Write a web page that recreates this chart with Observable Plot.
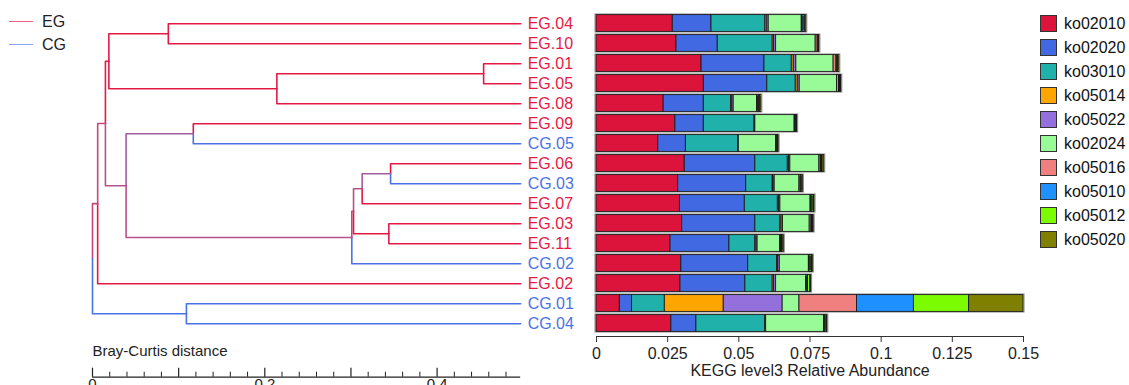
<!DOCTYPE html>
<html><head><meta charset="utf-8">
<script src="https://cdn.jsdelivr.net/npm/d3@7"></script>
<script src="https://cdn.jsdelivr.net/npm/@observablehq/plot@0.6"></script>
<style>
body{margin:0;background:#fff;font-family:'Liberation Sans',Arial,sans-serif;}
#wrap{position:relative;width:1129px;height:385px;overflow:hidden;background:#fff;}
#left{position:absolute;left:0;top:0;}
#right{position:absolute;left:585px;top:0;}
.gl{position:absolute;left:9px;width:24px;height:0;border-top:1.5px solid;}
.gt{position:absolute;left:42px;font-size:16px;color:#222;line-height:16px;}
.kb{position:absolute;left:1040px;width:17px;height:17px;box-sizing:border-box;border:1px solid #333;}
.kt{position:absolute;left:1064px;font-size:16px;color:#111;line-height:17px;}
</style></head>
<body><div id="wrap"><div id="left"></div><div id="right"></div><div id="legends"></div></div>
<script>
// ---- dendrogram data ----
const leaves = ["EG.04","EG.10","EG.01","EG.05","EG.08","EG.09","CG.05","EG.06","CG.03","EG.07","EG.03","EG.11","CG.02","EG.02","CG.01","CG.04"];
const leafGroup = ["EG","EG","EG","EG","EG","EG","CG","EG","CG","EG","EG","EG","CG","EG","CG","CG"];
const leafDist = 0.497;
const nodeNames = ["A","B","C","D","E","F","G","H","I","J","K","L","M","N","root"];
const nodeLeft  = ["EG.04","EG.01","B","A","EG.09","EG.06","F","EG.03","G","I","E","D","L","CG.01","M"];
const nodeRight = ["EG.10","EG.05","EG.08","C","CG.05","CG.03","EG.07","EG.11","H","CG.02","J","K","EG.02","CG.04","N"];
const nodeDist  = [0.088,0.454,0.214,0.019,0.117,0.346,0.313,0.344,0.303,0.301,0.039,0.015,0.006,0.109,0.0];
const groups = ["EG","CG"];
const groupColors = ["#E41A45","#4B72E6"];
const legendLineColors = ["#F0607C","#8AA2F0"];
const scaleMajor = [0,0.1,0.2,0.3,0.4];
const scaleMinor = [0.02,0.04,0.06,0.08,0.12,0.14,0.16,0.18,0.22,0.24,0.26,0.28,0.32,0.34,0.36,0.38,0.42,0.44,0.46,0.48];
const scaleLabels = [0,0.2,0.4];
const scaleTitle = "Bray-Curtis distance";

// ---- bar data ----
const samples = leaves;
const koKeys = ["ko02010","ko02020","ko03010","ko05014","ko05022","ko02024","ko05016","ko05010","ko05012","ko05020"];
const koColors = ["#DC143C","#4169E1","#20B2AA","#FFA500","#9370DB","#98FB98","#F08080","#1E90FF","#7CFC00","#808000"];
const ko02010 = [.0268,.0281,.0369,.0377,.0236,.0277,.0217,.0310,.0287,.0293,.0301,.0260,.0298,.0295,.0082,.0263];
const ko02020 = [.0136,.0145,.0221,.0223,.0141,.0100,.0097,.0248,.0239,.0228,.0257,.0207,.0235,.0228,.0043,.0088];
const ko03010 = [.0189,.0193,.0096,.0100,.0096,.0178,.0184,.0114,.0093,.0116,.0088,.0091,.0101,.0096,.0115,.0242];
const ko05014 = [.0005,.0005,.0007,.0007,.0004,.0001,.0001,.0004,.0003,.0004,.0004,.0004,.0004,.0005,.0207,.0001];
const ko05022 = [.0007,.0007,.0009,.0007,.0005,.0002,.0001,.0005,.0004,.0005,.0005,.0004,.0006,.0007,.0207,.0002];
const ko02024 = [.0116,.0139,.0131,.0131,.0082,.0138,.0131,.0102,.0087,.0106,.0094,.0079,.0102,.0105,.0059,.0203];
const ko05016 = [.0003,.0007,.0010,.0007,.0003,.0002,.0002,.0005,.0004,.0003,.0006,.0003,.0003,.0003,.0202,.0002];
const ko05010 = [.0004,.0002,.0003,.0002,.0004,.0002,.0002,.0003,.0002,.0004,.0002,.0003,.0004,.0004,.0200,.0003];
const ko05012 = [.0004,.0002,.0003,.0003,.0004,.0002,.0002,.0003,.0002,.0004,.0003,.0003,.0004,.0008,.0194,.0004];
const ko05020 = [.0005,.0002,.0004,.0003,.0004,.0003,.0003,.0006,.0004,.0003,.0003,.0004,.0003,.0003,.0191,.0003];
const koValues = [ko02010,ko02020,ko03010,ko05014,ko05022,ko02024,ko05016,ko05010,ko05012,ko05020];
const xTicks = [0,0.025,0.05,0.075,0.1,0.125,0.15];
const xTickLabels = ["0","0.025","0.05","0.075","0.1","0.125","0.15"];
const xTitle = "KEGG level3 Relative Abundance";

const FONT = "'Liberation Sans', Arial, sans-serif";
const baseStyle = {fontFamily: FONT, fontSize: "16px", background: "transparent", overflow: "visible"};

// ---- build tree geometry ----
const pos = {};
leaves.forEach((l, i) => pos[l] = {x: leafDist, y: i, eg: leafGroup[i] === "EG" ? 1 : 0, n: 1});
nodeNames.forEach((nm, i) => {
  const a = pos[nodeLeft[i]], b = pos[nodeRight[i]];
  pos[nm] = {x: nodeDist[i], y: (a.y + b.y) / 2, eg: a.eg + b.eg, n: a.n + b.n};
});
const mix = d3.interpolateRgb(groupColors[1], groupColors[0]);
const colorOf = f => f === 1 ? groupColors[0] : f === 0 ? groupColors[1] : d3.interpolateRgb(mix(f), "#ffffff")(0.12);
const branches = [];
nodeNames.forEach((nm, i) => {
  [nodeLeft[i], nodeRight[i]].forEach(c => {
    const p = pos[nm], ch = pos[c];
    branches.push({pts: [{x: p.x, y: p.y}, {x: p.x, y: ch.y}, {x: ch.x, y: ch.y}], color: colorOf(ch.eg / ch.n)});
  });
});
const axisIdx = 17.67;

const left = Plot.plot({
  width: 585, height: 385, margin: 0,
  x: {domain: [0, 0.5], range: [92, 522.75], axis: null},
  y: {domain: [0, 15], range: [23.3, 323.3], axis: null},
  style: baseStyle,
  marks: [
    ...branches.map(b => Plot.line(b.pts, {x: "x", y: "y", stroke: b.color, strokeWidth: 1.6, strokeLinejoin: "round"})),
    ...groups.map((g, gi) => Plot.text(leaves.map((l, i) => ({l, i})).filter(d => leafGroup[d.i] === g),
      {x: () => leafDist, y: d => d.i, text: d => d.l, dx: 7, textAnchor: "start", fill: groupColors[gi], fontSize: 16})),
    Plot.ruleY([axisIdx], {x1: () => 0, x2: () => leafDist, stroke: "#222", strokeWidth: 1.2}),
    Plot.ruleX(scaleMajor, {x: d => d, y1: () => axisIdx, y2: () => axisIdx - 0.45, stroke: "#222", strokeWidth: 1.2}),
    Plot.ruleX(scaleMinor, {x: d => d, y1: () => axisIdx, y2: () => axisIdx - 0.25, stroke: "#222", strokeWidth: 1}),
    Plot.text(scaleLabels, {x: d => d, y: () => axisIdx + 0.05, text: d => String(d), lineAnchor: "top", fontSize: 15, fill: "#222"}),
    Plot.text([scaleTitle], {x: () => 0, y: () => 16.39, text: d => d, textAnchor: "start", fontSize: 15, fill: "#222"})
  ]
});
document.getElementById("left").append(left);

// ---- bars ----
const rows = samples.flatMap((s, i) => koKeys.map((k, j) => ({sample: s, ko: k, value: koValues[j][i]})));
const totals = samples.map((s, i) => ({sample: s, total: d3.sum(koValues, v => v[i])}));
const right = Plot.plot({
  width: 544, height: 385,
  marginLeft: 11, marginRight: 106, marginTop: 0, marginBottom: 49,
  x: {domain: [0, 0.15]},
  y: {domain: samples, range: [13.3, 333.3], padding: 0, axis: null},
  color: {domain: koKeys, range: koColors},
  style: baseStyle,
  marks: [
    Plot.barX(totals, {y: "sample", x: "total", fill: "none", stroke: "#888", strokeWidth: 1, insetTop: 1, insetBottom: 1, insetLeft: -1, insetRight: -1}),
    Plot.barX(rows, {y: "sample", x: "value", fill: "ko", stroke: "#1a1a1a", strokeWidth: 0.9, insetTop: 1.6, insetBottom: 1.6}),
    Plot.frame({anchor: "bottom", stroke: "#333"}),
    Plot.axisX({ticks: xTicks, tickFormat: d => xTickLabels[xTicks.indexOf(d)], tickSize: 6, tickPadding: 5, fontSize: 16, label: null, stroke: "#333", fill: "#222"}),
    Plot.text([xTitle], {x: () => 0.075, frameAnchor: "bottom", dy: 39, text: d => d, fontSize: 16, fill: "#222"})
  ]
});
document.getElementById("right").append(right);

// ---- legends ----
const lg = document.getElementById("legends");
groups.forEach((g, i) => {
  const ln = document.createElement("div");
  ln.className = "gl"; ln.style.top = (21 + i * 23) + "px"; ln.style.borderTopColor = legendLineColors[i];
  const t = document.createElement("div");
  t.className = "gt"; t.style.top = (14 + i * 23) + "px"; t.textContent = g;
  lg.append(ln, t);
});
koKeys.forEach((k, i) => {
  const b = document.createElement("div");
  b.className = "kb"; b.style.top = (15 + i * 24) + "px"; b.style.background = koColors[i];
  const t = document.createElement("div");
  t.className = "kt"; t.style.top = (15 + i * 24) + "px"; t.textContent = k;
  lg.append(b, t);
});
</script>
</body></html>
